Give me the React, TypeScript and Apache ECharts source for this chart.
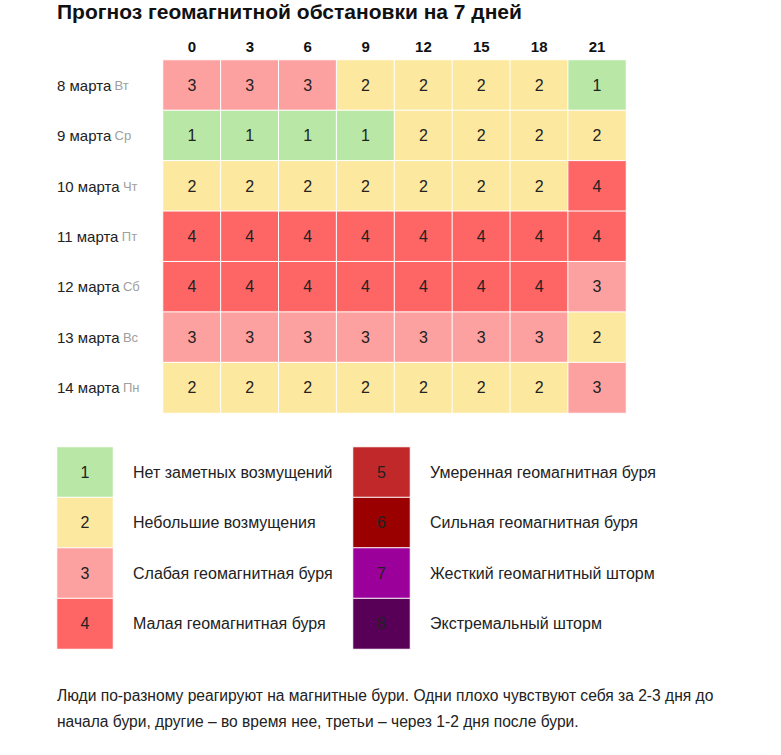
import React, { useEffect, useRef } from "react";
import * as echarts from "echarts";

const hours = ["0", "3", "6", "9", "12", "15", "18", "21"];
const dates = ["8 марта", "9 марта", "10 марта", "11 марта", "12 марта", "13 марта", "14 марта"];
const weekdays = ["Вт", "Ср", "Чт", "Пт", "Сб", "Вс", "Пн"];
const forecast: number[][] = [
  [3, 3, 3, 2, 2, 2, 2, 1],
  [1, 1, 1, 1, 2, 2, 2, 2],
  [2, 2, 2, 2, 2, 2, 2, 4],
  [4, 4, 4, 4, 4, 4, 4, 4],
  [4, 4, 4, 4, 4, 4, 4, 3],
  [3, 3, 3, 3, 3, 3, 3, 2],
  [2, 2, 2, 2, 2, 2, 2, 3],
];
const levelColors = ["#b8e7a6", "#fde8a0", "#fda0a0", "#fe6666", "#c0282a", "#9a0000", "#9b009b", "#580058"];
const legendLevelsLeft = [1, 2, 3, 4];
const legendLabelsLeft = ["Нет заметных возмущений", "Небольшие возмущения", "Слабая геомагнитная буря", "Малая геомагнитная буря"];
const legendLevelsRight = [5, 6, 7, 8];
const legendLabelsRight = ["Умеренная геомагнитная буря", "Сильная геомагнитная буря", "Жесткий геомагнитный шторм", "Экстремальный шторм"];
const titleText = "Прогноз геомагнитной обстановки на 7 дней";
const footerText =
  "Люди по-разному реагируют на магнитные бури. Одни плохо чувствуют себя за 2-3 дня до\nначала бури, другие – во время нее, третьи – через 1-2 дня после бури.";

const FONT = "Arial, 'Liberation Sans', sans-serif";

export default function App() {
  const ref = useRef<HTMLDivElement>(null);
  useEffect(() => {
    if (!ref.current) return;
    const chart = echarts.init(ref.current, null, { renderer: "svg" });
    const mainData: number[][] = [];
    forecast.forEach((row, y) => row.forEach((v, x) => mainData.push([x, y, v])));
    const leftData = legendLevelsLeft.map((v, i) => [0, i, v]);
    const rightData = legendLevelsRight.map((v, i) => [0, i, v]);

    const cellLabel = { show: true, fontSize: 16, color: "#222", fontFamily: FONT };
    const cellStyle = { borderColor: "#ffffff", borderWidth: 1 };

    const legendY = (labels: string[], gridIndex: number) => ({
      type: "category",
      gridIndex,
      data: labels,
      inverse: true,
      position: "right",
      axisLine: { show: false },
      axisTick: { show: false },
      splitLine: { show: false },
      axisLabel: { margin: 20, align: "left", fontSize: 16, color: "#222", fontFamily: FONT },
    });
    const hiddenX = (gridIndex: number) => ({
      type: "category",
      gridIndex,
      data: [""],
      show: false,
    });

    chart.setOption({
      animation: false,
      backgroundColor: "#ffffff",
      textStyle: { fontFamily: FONT },
      title: {
        text: titleText,
        left: 57,
        top: 1,
        padding: 0,
        textStyle: { fontSize: 21, fontWeight: "bold", color: "#111", fontFamily: FONT },
      },
      graphic: [
        {
          type: "text",
          left: 57,
          top: 682,
          style: { text: footerText, fontSize: 15.6, lineHeight: 26, fill: "#222", fontFamily: FONT },
        },
      ],
      grid: [
        { left: 163, top: 60, width: 463, height: 353 },
        { left: 57, top: 447, width: 56, height: 202 },
        { left: 353, top: 447, width: 57, height: 202 },
      ],
      xAxis: [
        {
          type: "category",
          gridIndex: 0,
          data: hours,
          position: "top",
          axisLine: { show: false },
          axisTick: { show: false },
          splitLine: { show: false },
          axisLabel: { margin: 6, fontSize: 15, fontWeight: "bold", color: "#111", fontFamily: FONT },
        },
        hiddenX(1),
        hiddenX(2),
      ],
      yAxis: [
        {
          type: "category",
          gridIndex: 0,
          data: dates,
          inverse: true,
          axisLine: { show: false },
          axisTick: { show: false },
          splitLine: { show: false },
          axisLabel: {
            margin: 106,
            align: "left",
            formatter: (value: string, index: number) => `{d|${value}} {w|${weekdays[index]}}`,
            rich: {
              d: { fontSize: 15, color: "#222", fontFamily: FONT },
              w: { fontSize: 13, color: "#a0a0a0", fontFamily: FONT },
            },
          },
        },
        legendY(legendLabelsLeft, 1),
        legendY(legendLabelsRight, 2),
      ],
      visualMap: {
        type: "piecewise",
        show: false,
        dimension: 2,
        seriesIndex: [0, 1, 2],
        pieces: levelColors.map((c, i) => ({ value: i + 1, color: c })),
      },
      series: [
        {
          type: "heatmap",
          xAxisIndex: 0,
          yAxisIndex: 0,
          data: mainData,
          label: cellLabel,
          itemStyle: cellStyle,
          emphasis: { disabled: true },
        },
        {
          type: "heatmap",
          xAxisIndex: 1,
          yAxisIndex: 1,
          data: leftData,
          label: cellLabel,
          itemStyle: cellStyle,
          emphasis: { disabled: true },
        },
        {
          type: "heatmap",
          xAxisIndex: 2,
          yAxisIndex: 2,
          data: rightData,
          label: cellLabel,
          itemStyle: cellStyle,
          emphasis: { disabled: true },
        },
      ],
    });
    return () => chart.dispose();
  }, []);
  return (
    <div
      ref={ref}
      style={{ position: "fixed", left: 0, top: 0, width: 781, height: 755, background: "#fff" }}
    />
  );
}
